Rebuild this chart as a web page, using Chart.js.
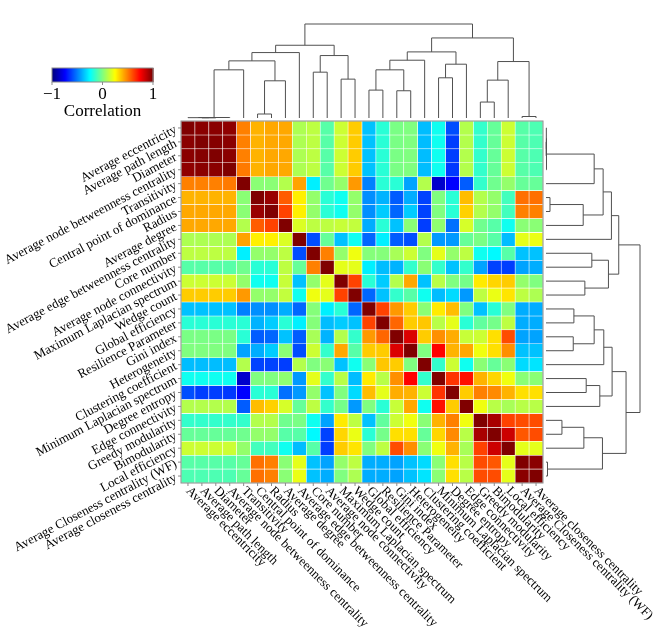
<!DOCTYPE html>
<html>
<head>
<meta charset="utf-8">
<title>Correlation heatmap</title>
<script src="https://cdn.jsdelivr.net/npm/chart.js@4/dist/chart.umd.min.js"></script>
<style>
  html, body { margin: 0; padding: 0; background: #fff; }
  canvas { display: block; }
</style>
</head>
<body>
<canvas id="heatmap" width="664" height="640"></canvas>
<script>
'use strict';

// metric names, same order for rows (top to bottom) and columns (left to right)
var labels = [
  'Average eccentricity', 'Average path length', 'Diameter',
  'Average node betweenness centrality', 'Transitivity', 'Central point of dominance',
  'Radius', 'Average degree', 'Average edge betweenness centrality', 'Core number',
  'Average node connectivity', 'Maximum Laplacian spectrum', 'Wedge count',
  'Global efficiency', 'Resilience Parameter', 'Gini index', 'Heterogeneity',
  'Clustering coefficient', 'Minimum Laplacian spectrum', 'Degree entropy',
  'Edge connectivity', 'Greedy modularity', 'Bimodularity', 'Local efficiency',
  'Average Closeness centrality (WF)', 'Average closeness centrality'
];

// upper triangle of the correlation matrix, row i starts at column i
var corrUpper = [
  [1, .98, .98, .97, .50, .40, .42, .42, .09, .12, -.08, .15, .35, -.37, -.17, -.01, 0, -.38, -.22, -.60, .10, -.15, -.05, .15, -.08, -.10],
  [1, .99, .98, .50, .40, .42, .42, .09, .12, -.08, .15, .35, -.37, -.17, -.01, 0, -.38, -.22, -.63, .10, -.15, -.05, .15, -.08, -.10],
  [1, .98, .50, .40, .42, .42, .09, .12, -.08, .15, .35, -.37, -.17, -.01, 0, -.38, -.22, -.63, .10, -.15, -.05, .15, -.08, -.10],
  [1, .51, .40, .42, .42, .09, .12, -.08, .15, .35, -.37, -.17, -.01, 0, -.38, -.22, -.64, .10, -.15, -.05, .15, -.08, -.10],
  [1, .02, .02, .10, .43, -.28, -.03, .04, .45, -.50, -.17, -.17, -.43, .10, -.85, -.75, -.57, -.15, -.03, .04, -.05, -.05],
  [1, .95, .57, .28, .04, -.17, -.22, .04, -.47, -.40, -.57, -.41, -.62, 0, -.17, .38, .10, .04, -.12, .53, .53],
  [1, .62, .28, .04, -.17, -.22, .04, -.47, -.35, -.55, -.35, -.62, 0, -.17, .34, .10, .04, -.12, .50, .50],
  [1, .18, .12, .12, .14, .13, -.41, -.17, -.37, .02, -.63, .03, -.53, .17, -.03, -.08, -.22, .02, .02],
  [1, -.60, -.05, -.37, -.22, -.55, -.28, -.57, -.60, .10, -.45, -.45, -.05, -.01, -.08, -.38, .20, .21],
  [1, .50, .04, .22, .01, .01, .08, .15, 0, .20, .04, .12, -.22, -.26, -.08, -.37, -.37],
  [1, .20, .20, -.28, -.38, -.40, -.15, .02, -.15, -.37, -.15, -.43, -.62, -.63, -.43, -.41],
  [1, .62, -.17, -.35, .10, .42, -.37, .11, 0, -.02, .29, .33, .35, .04, 0],
  [1, -.55, -.37, -.15, -.08, -.22, -.38, -.32, -.45, .12, .21, .30, .12, .09],
  [1, .62, .45, .35, .02, .29, .38, 0, -.37, -.17, 0, -.41, -.41],
  [1, .55, .35, .36, .11, .20, -.17, -.06, -.02, .12, -.41, -.41],
  [1, .82, .35, .47, .41, .14, .15, .31, .60, -.43, -.43],
  [1, 0, .75, .40, .42, .22, .31, .47, -.37, -.37],
  [1, -.15, .15, -.22, .02, -.05, .02, -.32, -.30],
  [1, .65, .72, .40, .33, .22, .02, .02],
  [1, .35, .50, .48, .40, .31, .31],
  [1, .22, .11, .08, .11, .11],
  [1, .92, .62, .60, .60],
  [1, .85, .58, .60],
  [1, .20, .20],
  [1, .98],
  [1]
];

// dendrogram (hclust style merges: negative = leaf number, positive = earlier merge)
var mergeLeft   = [-2, -1, 2, 3, -6, 5, 4, 7, -10, -12, 9, 8, -14, -16, 13, 15, -19, 17, 16, -22, 20, -25, 21, 19, 12];
var mergeRight  = [-3, 1, -4, -5, -7, -8, 6, -9, -11, -13, 10, 11, -15, -17, 14, -18, -20, -21, 18, -23, -24, -26, 22, 23, 24];
var mergeHeight = [0.5, 1, 1.5, 145, 12, 112, 172, 197, 138, 117, 188, 219, 84, 82, 145, 174, 121, 162, 199, 48, 114, 4.5, 170, 241, 283];

var legendTicks = [-1, 0, 1];

// full symmetric matrix from the upper triangle
var n = labels.length;
var corr = [];
for (var i = 0; i < n; i++) { corr.push(new Array(n)); }
for (var i = 0; i < n; i++) {
  for (var j = i; j < n; j++) {
    corr[i][j] = corrUpper[i][j - i];
    corr[j][i] = corrUpper[i][j - i];
  }
}

function clamp(v) { return Math.max(0, Math.min(1, v)); }

// jet palette, -1 .. 1
function jet(v) {
  var t = (v + 1) / 2;
  var r = clamp(1.5 - Math.abs(4 * t - 3));
  var g = clamp(1.5 - Math.abs(4 * t - 2));
  var b = clamp(1.5 - Math.abs(4 * t - 1));
  return 'rgb(' + Math.round(r * 255) + ',' + Math.round(g * 255) + ',' + Math.round(b * 255) + ')';
}

var SERIF = '"Liberation Serif", "Times New Roman", serif';

//-------------
//- DENDROGRAMS -
//-------------
function drawTree(ctx, leafPos, toPix, vertical) {
  var pos = [], hgt = [];
  function getPos(k) { return k < 0 ? leafPos(-k - 1) : pos[k - 1]; }
  function getH(k) { return k < 0 ? 0 : hgt[k - 1]; }
  ctx.beginPath();
  for (var m = 0; m < mergeHeight.length; m++) {
    var a = mergeLeft[m], b = mergeRight[m], h = mergeHeight[m];
    var pa = getPos(a), pb = getPos(b);
    pos.push((pa + pb) / 2);
    hgt.push(h);
    if (vertical) {
      ctx.moveTo(pa, toPix(getH(a))); ctx.lineTo(pa, toPix(h));
      ctx.lineTo(pb, toPix(h)); ctx.lineTo(pb, toPix(getH(b)));
    } else {
      ctx.moveTo(toPix(getH(a)), pa); ctx.lineTo(toPix(h), pa);
      ctx.lineTo(toPix(h), pb); ctx.lineTo(toPix(getH(b)), pb);
    }
  }
  ctx.stroke();
}

var decorations = {
  id: 'decorations',
  afterDraw: function (chart) {
    var ctx = chart.ctx;
    var area = chart.chartArea;
    var xs = chart.scales.x, ys = chart.scales.y;
    var colX = function (j) { return xs.getPixelForValue(j); };
    var rowY = function (i) { return ys.getPixelForValue(i + 0.5); };
    var maxH = mergeHeight[mergeHeight.length - 1];
    var treeLen = 94;

    ctx.save();

    // frame + ticks
    ctx.strokeStyle = '#8c8c8c';
    ctx.lineWidth = 1;
    ctx.strokeRect(area.left, area.top, area.right - area.left, area.bottom - area.top);
    ctx.beginPath();
    for (var i = 0; i < n; i++) {
      ctx.moveTo(area.left - 3, rowY(i)); ctx.lineTo(area.left, rowY(i));
      ctx.moveTo(colX(i), area.bottom); ctx.lineTo(colX(i), area.bottom + 3);
    }
    ctx.stroke();

    // dendrograms
    ctx.strokeStyle = '#505050';
    drawTree(ctx, colX, function (h) { return area.top - 3 - h / maxH * treeLen; }, true);
    drawTree(ctx, rowY, function (h) { return area.right + 3 + h / maxH * treeLen; }, false);

    // row labels
    ctx.fillStyle = '#000';
    ctx.font = '13px ' + SERIF;
    ctx.textAlign = 'right';
    ctx.textBaseline = 'middle';
    for (var i = 0; i < n; i++) {
      ctx.save();
      ctx.translate(area.left - 5, rowY(i) + 1);
      ctx.rotate(-28 * Math.PI / 180);
      ctx.fillText(labels[i], 0, 0);
      ctx.restore();
    }

    // column labels
    ctx.textAlign = 'left';
    for (var j = 0; j < n; j++) {
      ctx.save();
      ctx.translate(colX(j), area.bottom + 6);
      ctx.rotate(45 * Math.PI / 180);
      ctx.fillText(labels[j], 0, 0);
      ctx.restore();
    }

    // colour key
    var kx0 = 52, kx1 = 153, ky0 = 68, ky1 = 82;
    var steps = 101;
    for (var s = 0; s < steps; s++) {
      var v = -1 + 2 * s / (steps - 1);
      ctx.fillStyle = jet(v);
      ctx.fillRect(kx0 + (kx1 - kx0) * s / steps, ky0, (kx1 - kx0) / steps + 0.6, ky1 - ky0);
    }
    ctx.strokeStyle = '#8c8c8c';
    ctx.strokeRect(kx0, ky0, kx1 - kx0, ky1 - ky0);
    ctx.fillStyle = '#000';
    ctx.font = '17px ' + SERIF;
    ctx.textAlign = 'center';
    ctx.textBaseline = 'middle';
    ctx.beginPath();
    legendTicks.forEach(function (t) {
      var x = kx0 + (t + 1) / 2 * (kx1 - kx0);
      ctx.moveTo(x, ky1); ctx.lineTo(x, ky1 + 3);
      ctx.fillText(t < 0 ? '\u2212' + Math.abs(t) : String(t), x, 95);
    });
    ctx.stroke();
    ctx.fillText('Correlation', (kx0 + kx1) / 2, 112);

    ctx.restore();
  }
};

//-------------
//- HEAT MAP  -
//-------------
var datasets = labels.map(function (rowName, i) {
  return {
    label: rowName,
    data: labels.map(function () { return 1; }),
    backgroundColor: labels.map(function (c, j) { return jet(corr[i][j]); }),
    borderColor: '#ffffff',
    borderWidth: 0.6,
    borderSkipped: false,
    barPercentage: 1,
    categoryPercentage: 1
  };
});

new Chart(document.getElementById('heatmap').getContext('2d'), {
  type: 'bar',
  data: { labels: labels, datasets: datasets },
  options: {
    responsive: false,
    animation: false,
    layout: { padding: { left: 181, top: 121, right: 121, bottom: 157 } },
    plugins: { legend: { display: false }, tooltip: { enabled: false } },
    scales: {
      x: { stacked: true, display: false, grid: { display: false } },
      y: { stacked: true, display: false, min: 0, max: n, reverse: true, grid: { display: false } }
    }
  },
  plugins: [decorations]
});
</script>
</body>
</html>
